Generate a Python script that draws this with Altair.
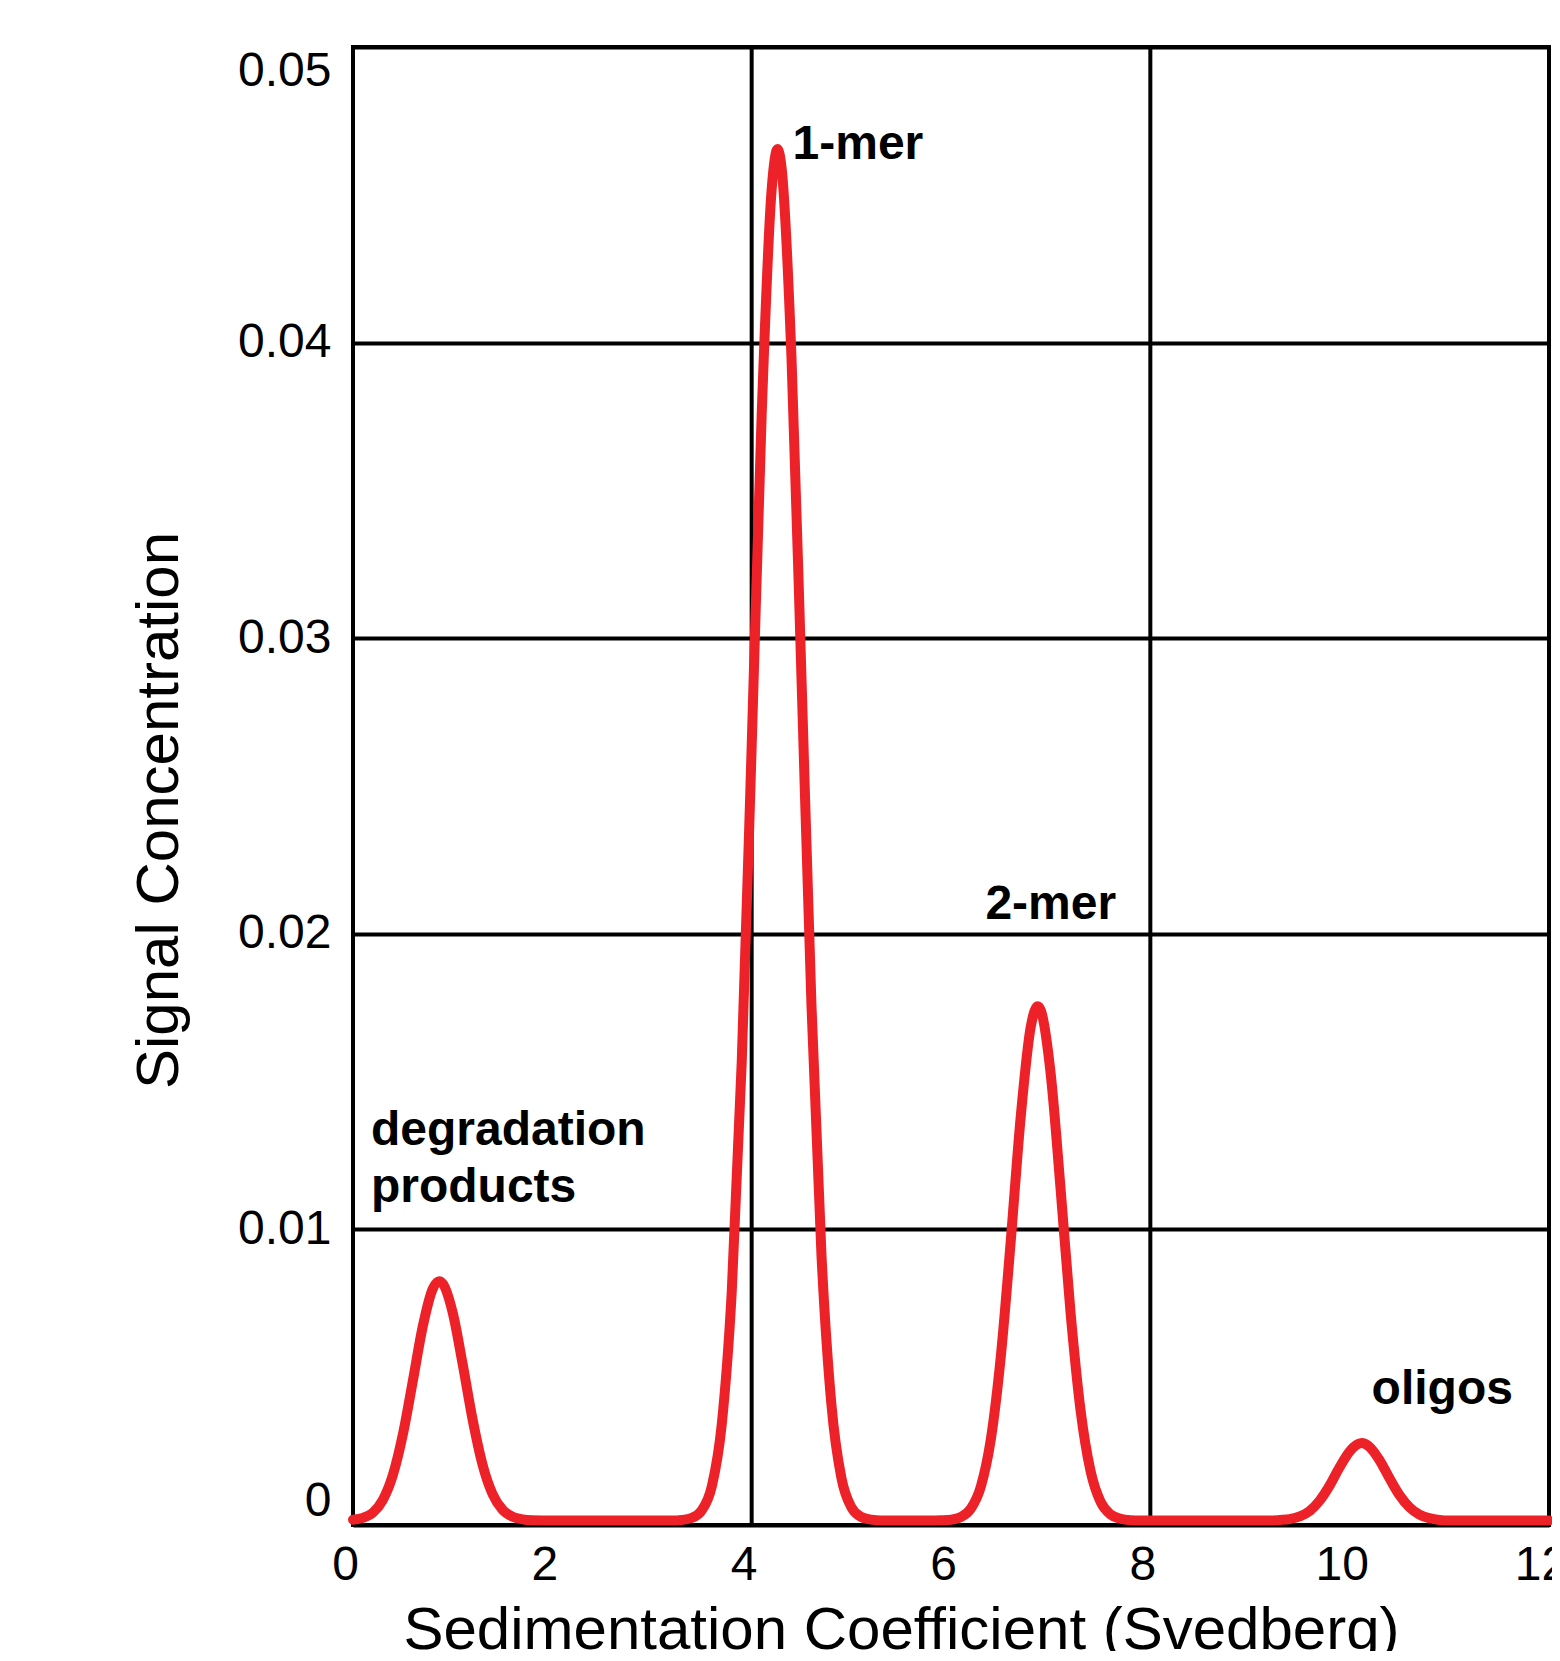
import altair as alt
import pandas as pd

# ---- data ----
sed_x = [0.0, 0.1, 0.2, 0.3, 0.4, 0.5, 0.6, 0.7, 0.8, 0.865, 0.9, 1.0, 1.1, 1.2, 1.3, 1.4, 1.5, 1.6, 1.7, 1.8, 2.0,
         3.2, 3.3, 3.4, 3.5, 3.6, 3.7, 3.8, 3.9, 4.0, 4.1, 4.2, 4.26, 4.3, 4.4, 4.5, 4.6, 4.7, 4.8, 4.9, 5.0, 5.1, 5.2, 5.3,
         5.8, 5.9, 6.0, 6.1, 6.2, 6.3, 6.4, 6.5, 6.6, 6.7, 6.8, 6.87, 6.9, 7.0, 7.1, 7.2, 7.3, 7.4, 7.5, 7.6, 7.7, 7.8, 7.9,
         9.2, 9.3, 9.4, 9.5, 9.6, 9.7, 9.8, 9.9, 10.0, 10.12, 10.2, 10.3, 10.4, 10.5, 10.6, 10.7, 10.8, 10.9, 11.0, 12.0]
signal_y = [0.00018, 0.00024, 0.00042, 0.00085, 0.00169, 0.00306, 0.00487, 0.00672, 0.00799, 0.00825, 0.00817,
            0.00719, 0.00545, 0.00357, 0.00204, 0.00105, 0.00052, 0.00028, 0.00019, 0.00016, 0.00015,
            0.00015, 0.00017, 0.00024, 0.00050, 0.00131, 0.00341, 0.00788, 0.01564, 0.02633, 0.03751, 0.04516,
            0.04655, 0.04592, 0.03945, 0.02864, 0.01758, 0.00916, 0.00408, 0.00160, 0.00060, 0.00027, 0.00018, 0.00015,
            0.00015, 0.00016, 0.00018, 0.00027, 0.00056, 0.00131, 0.00291, 0.00571, 0.00963, 0.01383, 0.01685,
            0.01755, 0.01742, 0.01527, 0.01135, 0.00717, 0.00388, 0.00183, 0.00079, 0.00036, 0.00021, 0.00016, 0.00015,
            0.00015, 0.00017, 0.00020, 0.00029, 0.00048, 0.00083, 0.00134, 0.00196, 0.00249, 0.00277, 0.00264,
            0.00219, 0.00158, 0.00101, 0.00060, 0.00035, 0.00023, 0.00017, 0.00015, 0.00015]

label_text = ["1-mer", "2-mer", "degradation\nproducts", "oligos"]
label_x = [4.41, 6.345, 0.18, 10.22]
label_y = [0.0462, 0.0205, 0.01285, 0.0041]

grid_x = [4, 8]
x_ticks = [0, 2, 4, 6, 8, 10, 12]
y_ticks = [0, 0.01, 0.02, 0.03, 0.04, 0.05]

curve = pd.DataFrame({"s": sed_x, "c": signal_y})
labels = pd.DataFrame({"s": label_x, "c": label_y, "t": label_text})
grid = pd.DataFrame({"s": grid_x})

PLOT_W, PLOT_H = 1196, 1478
FONT = "Liberation Sans"
TITLE_FONT = "Liberation Sans"

xscale = alt.Scale(domain=[0, 12], nice=False, zero=False)
yscale = alt.Scale(domain=[0, 0.05], nice=False)

xaxis = alt.Axis(values=x_ticks, grid=False, ticks=False, domain=False,
                 labelFont=FONT, labelFontSize=48, labelColor="black", labelPadding=16,
                 labelOffset=-8, labelFlush=False, labelOverlap=False, labelBound=False,
                 title="Sedimentation Coefficient (Svedberg)", titleFont=TITLE_FONT,
                 titleFontSize=60, titleFontWeight="normal", titleColor="black",
                 titleX=548, titleY=123, titleAlign="center", titleBaseline="alphabetic",
                 titleAnchor="start")
yaxis = alt.Axis(values=y_ticks, grid=True, ticks=False, domain=False,
                 labelExpr="datum.value == 0 ? '0' : format(datum.value, '.2f')",
                 labelFont=FONT, labelFontSize=48, labelColor="black", labelPadding=22,
                 labelFlush=True, labelOverlap=False,
                 title="Signal Concentration", titleFont=TITLE_FONT, titleFontSize=60,
                 titleFontWeight="normal", titleColor="black",
                 titleAngle=270, titleX=-176, titleY=763, titleAlign="center",
                 titleBaseline="alphabetic", titleAnchor="start")

rules = alt.Chart(grid).mark_rule(color="black", strokeWidth=4).encode(
    x=alt.X("s:Q", scale=xscale, axis=xaxis)
)

line = alt.Chart(curve).mark_line(color="#ED2128", strokeWidth=10, interpolate="monotone",
                                  strokeCap="round", strokeJoin="round").encode(
    x=alt.X("s:Q", scale=xscale, axis=xaxis),
    y=alt.Y("c:Q", scale=yscale, axis=yaxis),
)

text = alt.Chart(labels).mark_text(align="left", baseline="alphabetic", font=FONT,
                                   fontWeight="bold", fontSize=48, lineHeight=57,
                                   lineBreak="\n", color="black").encode(
    x=alt.X("s:Q", scale=xscale, axis=xaxis),
    y=alt.Y("c:Q", scale=yscale, axis=yaxis),
    text="t:N",
)

chart = alt.layer(rules, line, text).properties(
    width=PLOT_W, height=PLOT_H,
    autosize=alt.AutoSizeParams(type="none"),
    padding={"left": 345, "top": 39, "right": 3, "bottom": 126},
    background="white",
).configure_view(
    stroke="black", strokeWidth=4
).configure_axis(
    gridColor="black", gridWidth=4, gridOpacity=1
)

chart.save("out.html", embed_options={"renderer": "svg", "actions": False})
